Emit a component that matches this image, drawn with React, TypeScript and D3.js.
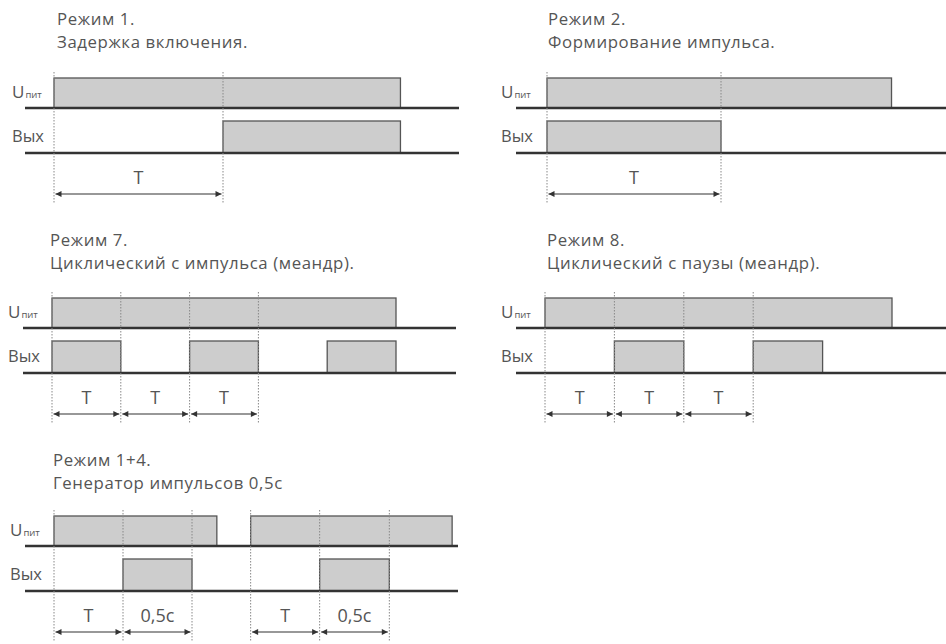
import React from "react";
import * as d3 from "d3";

// ---- data (time in units of T) ----
const modeTitles = ["Режим 1.", "Режим 2.", "Режим 7.", "Режим 8.", "Режим 1+4."];
const modeSubtitles = [
  "Задержка включения.",
  "Формирование импульса.",
  "Циклический с импульса (меандр).",
  "Циклический с паузы (меандр).",
  "Генератор импульсов 0,5с",
];
const supply1: [number, number][] = [[0, 2.05]];
const output1: [number, number][] = [[1, 2.05]];
const marks1 = [0, 1];
const spans1: [number, number, string][] = [[0, 1, "T"]];

const supply2: [number, number][] = [[0, 1.98]];
const output2: [number, number][] = [[0, 1]];
const marks2 = [0, 1];
const spans2: [number, number, string][] = [[0, 1, "T"]];

const supply7: [number, number][] = [[0, 5]];
const output7: [number, number][] = [[0, 1], [2, 3], [4, 5]];
const marks7 = [0, 1, 2, 3];
const spans7: [number, number, string][] = [[0, 1, "T"], [1, 2, "T"], [2, 3, "T"]];

const supply8: [number, number][] = [[0, 5]];
const output8: [number, number][] = [[1, 2], [3, 4]];
const marks8 = [0, 1, 2, 3];
const spans8: [number, number, string][] = [[0, 1, "T"], [1, 2, "T"], [2, 3, "T"]];

const supply14: [number, number][] = [[0, 2.36], [2.85, 5.77]];
const output14: [number, number][] = [[1, 2], [3.85, 4.86]];
const marks14 = [0, 1, 2, 2.85, 3.85, 4.86];
const spans14: [number, number, string][] = [[0, 1, "T"], [1, 2, "0,5с"], [2.85, 3.85, "T"], [3.85, 4.86, "0,5с"]];

const rowLabelMain = "U";
const rowLabelSub = "пит";
const rowLabelOut = "Вых";

// ---- layout ----
const layouts = [
  { x0: 54, tpx: 169, base: 108, line: [25, 459], labelX: 12, titleX: 57, titleY: 25 },
  { x0: 547, tpx: 174, base: 108, line: [516, 946], labelX: 501, titleX: 548, titleY: 25 },
  { x0: 52, tpx: 68.8, base: 328, line: [23, 456], labelX: 8, titleX: 50, titleY: 246 },
  { x0: 545, tpx: 69.4, base: 328, line: [516, 946], labelX: 501, titleX: 547, titleY: 246 },
  { x0: 54, tpx: 69, base: 546, line: [25, 458], labelX: 10, titleX: 53, titleY: 466 },
];
const panelsData = [
  { supply: supply1, output: output1, marks: marks1, spans: spans1 },
  { supply: supply2, output: output2, marks: marks2, spans: spans2 },
  { supply: supply7, output: output7, marks: marks7, spans: spans7 },
  { supply: supply8, output: output8, marks: marks8, spans: spans8 },
  { supply: supply14, output: output14, marks: marks14, spans: spans14 },
];

const FONT = "'Open Sans', 'DejaVu Sans', sans-serif";
const FILL = "#cdcdcd";
const EDGE = "#555";
const LINE = "#333";
const TEXT = "#555";

function Panel({ i }: { i: number }) {
  const L = layouts[i];
  const D = panelsData[i];
  const x = d3.scaleLinear().domain([0, 1]).range([L.x0, L.x0 + L.tpx]);
  const uBase = L.base;
  const uTop = uBase - 30;
  const oBase = uBase + 45;
  const oTop = oBase - 32;
  const arrowY = uBase + 86;
  const labelY = uBase + 76;
  const dotTop = uTop - 6;
  const dotBot = arrowY + 9;
  const ah = 6, aw = 3;
  return (
    <g>
      <text x={L.titleX} y={L.titleY} fontFamily={FONT} fontSize={16.8} letterSpacing={0.6} fill={TEXT}>{modeTitles[i]}</text>
      <text x={L.titleX} y={L.titleY + 23} fontFamily={FONT} fontSize={16.8} letterSpacing={0.6} fill={TEXT}>{modeSubtitles[i]}</text>
      <text x={L.labelX} y={uBase - 10} fontFamily={FONT} fontSize={17} fill={TEXT}>
        {rowLabelMain}
        <tspan fontSize={9.5} dx={1}>{rowLabelSub}</tspan>
      </text>
      <text x={L.labelX} y={oBase - 11} fontFamily={FONT} fontSize={16.5} fill={TEXT}>{rowLabelOut}</text>
      {D.supply.map(([a, b], k) => (
        <rect key={"s" + k} x={x(a)} y={uTop} width={x(b) - x(a)} height={uBase - uTop} fill={FILL} stroke={EDGE} strokeWidth={1.3} />
      ))}
      {D.output.map(([a, b], k) => (
        <rect key={"o" + k} x={x(a)} y={oTop} width={x(b) - x(a)} height={oBase - oTop} fill={FILL} stroke={EDGE} strokeWidth={1.3} />
      ))}
      <line x1={L.line[0]} x2={L.line[1]} y1={uBase} y2={uBase} stroke={LINE} strokeWidth={2.4} />
      <line x1={L.line[0]} x2={L.line[1]} y1={oBase} y2={oBase} stroke={LINE} strokeWidth={2.4} />
      {D.marks.map((m, k) => (
        <line key={"m" + k} x1={x(m)} x2={x(m)} y1={dotTop} y2={dotBot} stroke="#888" strokeWidth={1} strokeDasharray="1.5,1.5" />
      ))}
      {D.spans.map(([a, b, lab], k) => {
        const xa = x(a) + 1.5, xb = x(b) - 1.5;
        return (
          <g key={"a" + k}>
            <line x1={xa} x2={xb} y1={arrowY} y2={arrowY} stroke={LINE} strokeWidth={1.2} />
            <path d={`M${xa},${arrowY}L${xa + ah},${arrowY - aw}L${xa + ah},${arrowY + aw}Z`} fill={LINE} />
            <path d={`M${xb},${arrowY}L${xb - ah},${arrowY - aw}L${xb - ah},${arrowY + aw}Z`} fill={LINE} />
            <text x={(x(a) + x(b)) / 2} y={labelY} textAnchor="middle" fontFamily={FONT} fontSize={18} fill={TEXT}>{lab}</text>
          </g>
        );
      })}
    </g>
  );
}

export default function App() {
  return (
    <svg width={946} height={644} style={{ position: "absolute", left: 0, top: 0, background: "#fff" }}>
      <rect width={946} height={644} fill="#fff" />
      {layouts.map((_, i) => (
        <Panel key={i} i={i} />
      ))}
    </svg>
  );
}
